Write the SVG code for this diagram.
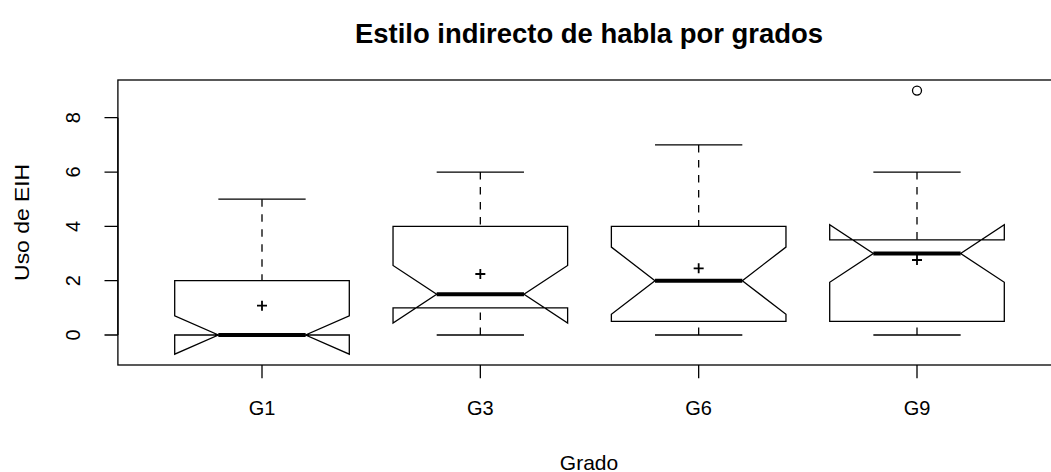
<svg xmlns="http://www.w3.org/2000/svg" width="1051" height="472" viewBox="0 0 1051 472">
<style>
text{font-family:"Liberation Sans",Arial,Helvetica,sans-serif;fill:#000}
.t{font-size:27px;font-weight:bold}
.lab{font-size:21px}
.tick{font-size:20px}
.ln{stroke:#000;stroke-width:1.3;fill:none}
.box{stroke:#000;stroke-width:1.3;fill:#fff;stroke-linejoin:miter}
.med{stroke:#000;stroke-width:4;fill:none}
.wh{stroke:#000;stroke-width:1.3;fill:none;stroke-dasharray:7.5 7.5}
.mean{stroke:#000;stroke-width:1.8;fill:none}
</style>
<rect width="1051" height="472" fill="#fff"/>
<text class="t" x="589" y="43" text-anchor="middle" textLength="468" lengthAdjust="spacingAndGlyphs">Estilo indirecto de habla por grados</text>
<g id="axes">
<rect class="ln" x="117.9" y="80" width="943.2" height="285"/>
<path class="ln" d="M117.9,335V117.72M104.5,335H117.9M104.5,280.68H117.9M104.5,226.36H117.9M104.5,172.04H117.9M104.5,117.72H117.9"/>
<path class="ln" d="M262,365V378.3M480.33,365V378.3M698.67,365V378.3M917,365V378.3"/>
<text class="tick" transform="translate(80,335) rotate(-90)" text-anchor="middle">0</text>
<text class="tick" transform="translate(80,280.68) rotate(-90)" text-anchor="middle">2</text>
<text class="tick" transform="translate(80,226.36) rotate(-90)" text-anchor="middle">4</text>
<text class="tick" transform="translate(80,172.04) rotate(-90)" text-anchor="middle">6</text>
<text class="tick" transform="translate(80,117.72) rotate(-90)" text-anchor="middle">8</text>
<text class="tick" x="262" y="415" text-anchor="middle">G1</text>
<text class="tick" x="480.33" y="415" text-anchor="middle">G3</text>
<text class="tick" x="698.67" y="415" text-anchor="middle">G6</text>
<text class="tick" x="917" y="415" text-anchor="middle">G9</text>
<text class="lab" transform="translate(29,222.4) rotate(-90)" text-anchor="middle" textLength="117" lengthAdjust="spacingAndGlyphs">Uso de EIH</text>
<text class="lab" x="589" y="470" text-anchor="middle">Grado</text>
</g>
<g id="connectors">
<path class="wh" d="M262,199.2V280.68"/>
<path class="wh" d="M480.33,172.04V226.36M480.33,335V307.84"/>
<path class="wh" d="M698.67,144.88V226.36M698.67,335V321.42"/>
<path class="wh" d="M917,172.04V239.94M917,335V321.42"/>
</g>
<g id="G1">
<path class="ln" d="M218.35,199.2H305.65M218.35,335H305.65"/>
<polygon class="box" points="174.7,335 174.7,354.19 218.35,335 174.7,315.81 174.7,280.68 349.3,280.68 349.3,315.81 305.65,335 349.3,354.19 349.3,335"/>
<path class="med" d="M218.35,335H305.65"/>
<path class="mean" d="M257,305.7H267M262,300.7V310.7"/>
</g>
<g id="G3">
<path class="ln" d="M436.68,172.04H523.98M436.68,335H523.98"/>
<polygon class="box" points="393.03,307.84 393.03,323.05 436.68,294.26 393.03,265.47 393.03,226.36 567.63,226.36 567.63,265.47 523.98,294.26 567.63,323.05 567.63,307.84"/>
<path class="med" d="M436.68,294.26H523.98"/>
<path class="mean" d="M475.33,274H485.33M480.33,269V279"/>
</g>
<g id="G6">
<path class="ln" d="M655.02,144.88H742.32M655.02,335H742.32"/>
<polygon class="box" points="611.37,321.42 611.37,314.27 655.02,280.68 611.37,247.09 611.37,226.36 785.97,226.36 785.97,247.09 742.32,280.68 785.97,314.27 785.97,321.42"/>
<path class="med" d="M655.02,280.68H742.32"/>
<path class="mean" d="M693.67,268.3H703.67M698.67,263.3V273.3"/>
</g>
<g id="G9">
<path class="ln" d="M873.35,172.04H960.65M873.35,335H960.65"/>
<polygon class="box" points="829.7,321.42 829.7,282.31 873.35,253.52 829.7,224.73 829.7,239.94 1004.3,239.94 1004.3,224.73 960.65,253.52 1004.3,282.31 1004.3,321.42"/>
<path class="med" d="M873.35,253.52H960.65"/>
<path class="mean" d="M912,260H922M917,255V265"/>
<circle class="ln" cx="917" cy="90.56" r="4.5"/>
</g>
</svg>
